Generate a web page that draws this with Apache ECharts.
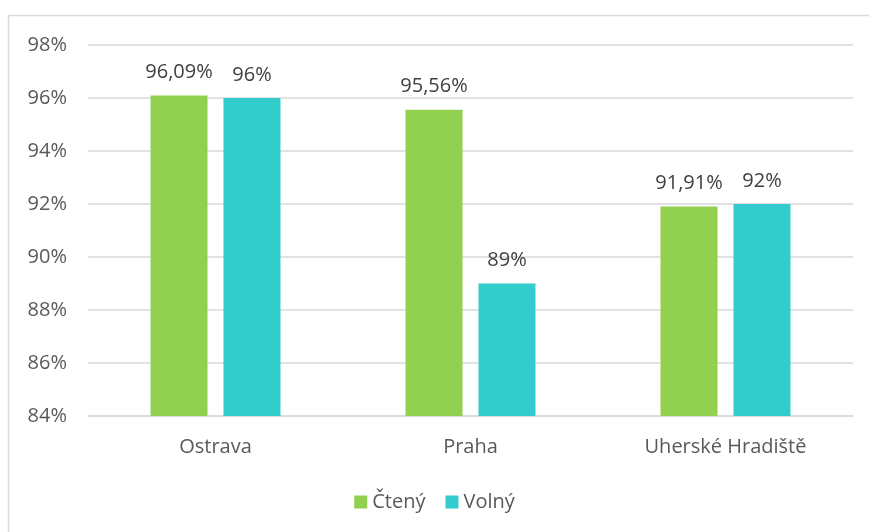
<!DOCTYPE html>
<html>
<head>
<meta charset="utf-8">
<script src="https://cdn.jsdelivr.net/npm/echarts@6/dist/echarts.min.js"></script>
<style>
  html, body { margin: 0; padding: 0; background: #fff; }
  #chart { width: 869px; height: 532px; }
</style>
</head>
<body>
<div id="chart"></div>
<script>
  // Data
  var categories = ['Ostrava', 'Praha', 'Uherské Hradiště'];
  var cteny = [96.09, 95.56, 91.91];
  var volny = [96, 89, 92];
  var seriesNames = ['Čtený', 'Volný'];

  function pct(v) {
    return String(v).replace('.', ',') + '%';
  }

  var font = 'Open Sans';
  var chart = echarts.init(document.getElementById('chart'));
  var option = {
    animation: false,
    textStyle: { fontFamily: font },
    graphic: [{
      type: 'rect',
      shape: { x: 8.5, y: 15.5, width: 900, height: 600 },
      style: { fill: 'none', stroke: '#d9d9d9', lineWidth: 1.5 },
      silent: true
    }],
    grid: { left: 88, right: 16, top: 45, bottom: 116 },
    legend: {
      bottom: 15,
      left: 'center',
      itemWidth: 13,
      itemHeight: 13,
      itemGap: 20,
      icon: 'rect',
      textStyle: { color: '#595959', fontSize: 20, fontFamily: font },
      data: seriesNames
    },
    xAxis: {
      type: 'category',
      data: categories,
      axisLine: { lineStyle: { color: '#d9d9d9', width: 1.5 } },
      axisTick: { show: false },
      axisLabel: { color: '#595959', fontSize: 20, margin: 21, fontFamily: font }
    },
    yAxis: {
      type: 'value',
      min: 84,
      max: 98,
      interval: 2,
      axisLine: { show: false },
      axisTick: { show: false },
      splitLine: { lineStyle: { color: '#d9d9d9', width: 1.5 } },
      axisLabel: {
        color: '#595959', fontSize: 20, margin: 21, fontFamily: font,
        formatter: function (v) { return v + '%'; }
      }
    },
    series: [{
      name: seriesNames[0],
      type: 'bar',
      data: cteny,
      barWidth: 57,
      barGap: '28%',
      itemStyle: { color: '#92d050' },
      label: {
        show: true, position: 'top', distance: 13,
        color: '#404040', fontSize: 20, fontFamily: font,
        formatter: function (p) { return pct(p.value); }
      }
    }, {
      name: seriesNames[1],
      type: 'bar',
      data: volny,
      barWidth: 57,
      itemStyle: { color: '#33cccc' },
      label: {
        show: true, position: 'top', distance: 13,
        color: '#404040', fontSize: 20, fontFamily: font,
        formatter: function (p) { return pct(p.value); }
      }
    }]
  };
  chart.setOption(option);
</script>
</body>
</html>
